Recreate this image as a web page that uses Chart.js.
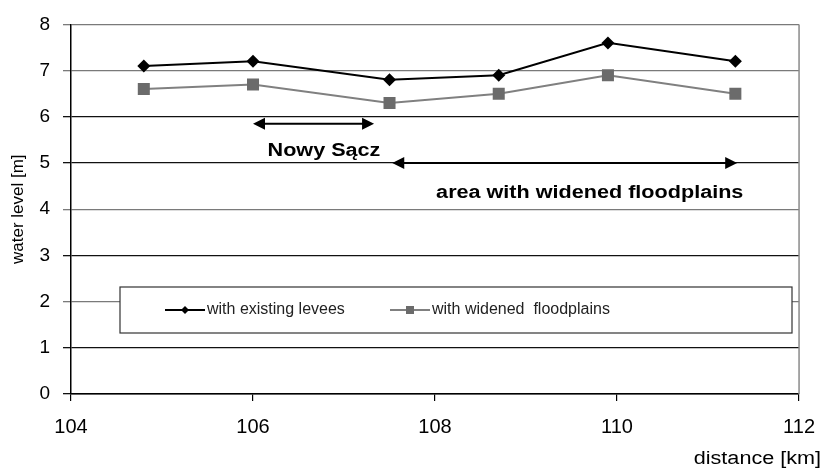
<!DOCTYPE html>
<html>
<head>
<meta charset="utf-8">
<script src="https://cdn.jsdelivr.net/npm/chart.js@4"></script>
<style>
  html, body { margin: 0; padding: 0; background: #fff; }
  #wrap { width: 829px; height: 470px; }
</style>
</head>
<body>
<div id="wrap"><canvas id="lineChart"></canvas></div>
<script>
const distanceKm = [104.8, 106.0, 107.5, 108.7, 109.9, 111.3];
const existingLevees = [7.1, 7.2, 6.8, 6.9, 7.6, 7.2];
const widenedFloodplains = [6.6, 6.7, 6.3, 6.5, 6.9, 6.5];
const seriesLabels = ['with existing levees', 'with widened  floodplains'];

// range arrows drawn over the plot (km / m)
const rangeLabels = ['Nowy Sącz', 'area with widened floodplains'];
const rangeStart = [106.0, 107.53];
const rangeEnd = [107.33, 111.32];
const rangeLevel = [5.85, 5.0];
const rangeLabelX = [106.78, 109.7];
const rangeLabelLevel = [5.26, 4.36];

const gridGray = [2, 4, 7, 8];

function toPoints(xs, ys) {
    return xs.map(function (x, i) { return {x: x, y: ys[i]}; });
}

function arrowHead(ctx, x, y, dir) {
    ctx.beginPath();
    ctx.moveTo(x, y);
    ctx.lineTo(x - dir * 12, y - 6);
    ctx.lineTo(x - dir * 12, y + 6);
    ctx.closePath();
    ctx.fill();
}

const overlayPlugin = {
    id: 'overlay',
    afterDatasetsDraw(chart) {
        const ctx = chart.ctx;
        const xs = chart.scales.x;
        const ys = chart.scales.y;
        const area = chart.chartArea;
        ctx.save();

        // right frame line
        ctx.strokeStyle = '#8a8a8a';
        ctx.lineWidth = 1.5;
        ctx.beginPath();
        ctx.moveTo(area.right, area.top);
        ctx.lineTo(area.right, area.bottom);
        ctx.stroke();

        // arrows + labels
        ctx.strokeStyle = '#000';
        ctx.fillStyle = '#000';
        ctx.lineWidth = 2;
        rangeLabels.forEach(function (label, i) {
            const x1 = xs.getPixelForValue(rangeStart[i]);
            const x2 = xs.getPixelForValue(rangeEnd[i]);
            const y = ys.getPixelForValue(rangeLevel[i]);
            ctx.beginPath();
            ctx.moveTo(x1 + 8, y);
            ctx.lineTo(x2 - 8, y);
            ctx.stroke();
            arrowHead(ctx, x1, y, -1);
            arrowHead(ctx, x2, y, 1);

            const tx = xs.getPixelForValue(rangeLabelX[i]);
            const ty = ys.getPixelForValue(rangeLabelLevel[i]);
            ctx.save();
            ctx.translate(tx, ty);
            ctx.scale(1.2, 1);
            ctx.font = 'bold 18px "Liberation Sans", Arial, sans-serif';
            ctx.textAlign = 'center';
            ctx.textBaseline = 'middle';
            ctx.fillText(label, 0, 0);
            ctx.restore();
        });

        // legend box inside the plot
        const box = {left: 120, top: 287, right: 792, bottom: 333};
        ctx.fillStyle = '#fff';
        ctx.fillRect(box.left, box.top, box.right - box.left, box.bottom - box.top);
        ctx.strokeStyle = '#333';
        ctx.lineWidth = 1.2;
        ctx.strokeRect(box.left, box.top, box.right - box.left, box.bottom - box.top);

        const legendY = (box.top + box.bottom) / 2;
        const itemX = [165, 390];
        chart.data.datasets.forEach(function (ds, i) {
            const lx = itemX[i];
            ctx.strokeStyle = ds.borderColor;
            ctx.lineWidth = 2;
            ctx.beginPath();
            ctx.moveTo(lx, legendY);
            ctx.lineTo(lx + 40, legendY);
            ctx.stroke();
            ctx.fillStyle = ds.pointBackgroundColor;
            ctx.beginPath();
            if (ds.pointStyle === 'rectRot') {
                ctx.moveTo(lx + 20, legendY - 4);
                ctx.lineTo(lx + 24, legendY);
                ctx.lineTo(lx + 20, legendY + 4);
                ctx.lineTo(lx + 16, legendY);
                ctx.closePath();
            } else {
                ctx.rect(lx + 16, legendY - 4, 8, 8);
            }
            ctx.fill();
            ctx.fillStyle = '#222';
            ctx.font = '16px "Liberation Sans", Arial, sans-serif';
            ctx.textAlign = 'left';
            ctx.textBaseline = 'middle';
            ctx.fillText(ds.label, lx + 42, legendY);
        });

        // x axis title, bottom right
        ctx.save();
        ctx.translate(821, 459);
        ctx.scale(1.2, 1);
        ctx.fillStyle = '#000';
        ctx.font = '18px "Liberation Sans", Arial, sans-serif';
        ctx.textAlign = 'right';
        ctx.textBaseline = 'middle';
        ctx.fillText('distance [km]', 0, 0);
        ctx.restore();
        ctx.restore();
    }
};

const chartContext = document.getElementById('lineChart').getContext('2d');
const chart = new Chart(chartContext, {
    type: 'line',
    data: {
        datasets: [{
            label: seriesLabels[0],
            data: toPoints(distanceKm, existingLevees),
            borderColor: '#000',
            borderWidth: 2,
            pointStyle: 'rectRot',
            pointRadius: 6.5,
            pointBackgroundColor: '#000',
            pointBorderColor: '#000',
            pointBorderWidth: 0,
            tension: 0
        }, {
            label: seriesLabels[1],
            data: toPoints(distanceKm, widenedFloodplains),
            borderColor: '#808080',
            borderWidth: 2,
            pointStyle: 'rect',
            pointRadius: 8.5,
            pointBackgroundColor: '#6b6b6b',
            pointBorderColor: '#6b6b6b',
            pointBorderWidth: 0,
            tension: 0
        }]
    },
    options: {
        responsive: true,
        maintainAspectRatio: false,
        animation: false,
        layout: {padding: {top: 19, right: 20, left: 0, bottom: 0}},
        plugins: {
            legend: {display: false},
            tooltip: {enabled: false}
        },
        scales: {
            x: {
                type: 'linear',
                min: 104,
                max: 112,
                afterFit: function (scale) { scale.height = 76; },
                ticks: {
                    stepSize: 2,
                    padding: 14,
                    color: '#000',
                    font: {family: '"Liberation Sans", Arial, sans-serif', size: 20}
                },
                grid: {drawOnChartArea: false, tickLength: 7, color: '#000', lineWidth: 1.2},
                border: {color: '#000', width: 1.5}
            },
            y: {
                min: 0,
                max: 8,
                afterFit: function (scale) { scale.width = 71; },
                ticks: {
                    stepSize: 1,
                    padding: 13,
                    color: '#000',
                    font: {family: '"Liberation Sans", Arial, sans-serif', size: 19}
                },
                grid: {
                    tickLength: 8,
                    lineWidth: 1.3,
                    color: function (c) {
                        return gridGray.indexOf(c.tick && c.tick.value) >= 0 ? '#7a7a7a' : '#111';
                    }
                },
                border: {color: '#000', width: 1.5},
                title: {
                    display: true,
                    text: 'water level [m]',
                    color: '#000',
                    padding: {top: 8, bottom: 0},
                    font: {family: '"Liberation Sans", Arial, sans-serif', size: 17}
                }
            }
        }
    },
    plugins: [overlayPlugin]
});
</script>
</body>
</html>
